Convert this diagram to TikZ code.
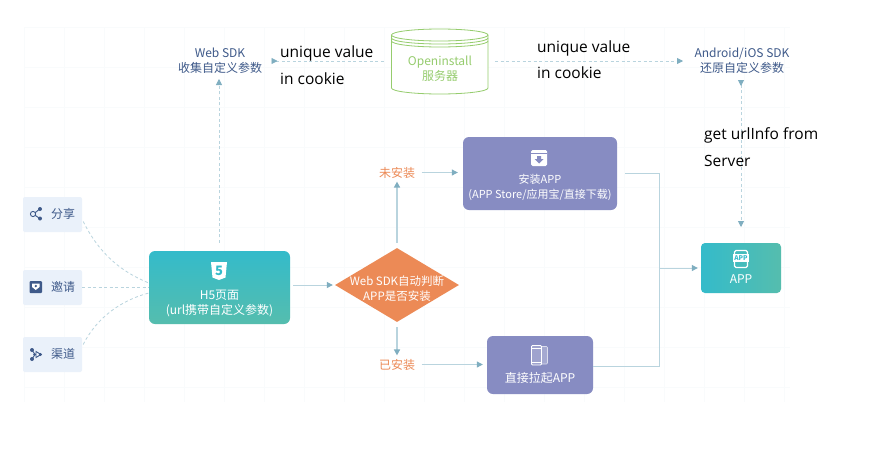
\documentclass[tikz,border=0pt]{standalone}
\usepackage{fontspec}
\setmainfont{Noto Sans CJK SC}
\newfontfamily\latinfont{Open Sans}
\usetikzlibrary{arrows.meta,shapes.geometric,positioning,calc}
\definecolor{tealtop}{HTML}{34BBCA}
\definecolor{tealbot}{HTML}{55BDAE}
\definecolor{violetbox}{HTML}{878CC2}
\definecolor{orangebox}{HTML}{EC8A56}
\definecolor{greenbase}{HTML}{96CC6E}
\definecolor{paleblue}{HTML}{EAF1FA}
\definecolor{navytext}{HTML}{3F5A8A}
\definecolor{linkline}{HTML}{B9D4DE}
\definecolor{linktip}{HTML}{7FAEC0}
\definecolor{gridline}{HTML}{F9FBFC}
\begin{document}
\begin{tikzpicture}[x=1pt,y=-1pt]
\tikzset{
  sidebox/.style={fill=paleblue,rounded corners=2pt,minimum width=59pt,minimum height=35pt,inner sep=0pt},
  sidetext/.style={text=navytext,font=\fontsize{12}{13}\selectfont},
  sdktext/.style={text=navytext,font=\fontsize{12}{15}\selectfont,align=center},
  boxtext/.style={text=white,font=\fontsize{12}{15}\selectfont,align=center},
  smalltext/.style={text=white,font=\fontsize{11}{14.5}\selectfont,align=center},
  violet/.style={fill=violetbox,rounded corners=6pt,inner sep=0pt},
  statetext/.style={text=orangebox,font=\fontsize{12}{13}\selectfont},
  noteblack/.style={text=black,anchor=west,inner sep=0pt,font=\latinfont\fontsize{15.5}{17}\selectfont},
  dashlink/.style={draw=linkline,dash pattern=on 3pt off 2.5pt,line width=0.8pt},
  solidlink/.style={draw=linkline,line width=1pt},
  tip/.style={-{Triangle[length=6pt,width=6pt,color=linktip]}},
  tipback/.style={{Triangle[length=6pt,width=6pt,color=linktip,reversed]}-},
  tipboth/.style={{Triangle[length=6pt,width=6pt,color=linktip,reversed]}-{Triangle[length=6pt,width=6pt,color=linktip]}},
}
\useasboundingbox (0,0) rectangle (872,458);
\fill[white] (0,0) rectangle (872,458);
%fond quadrille
\foreach \gx in {24,64,...,790} \draw[gridline] (\gx,27) -- (\gx,402);
\foreach \gy in {27,67,...,402} \draw[gridline] (24,\gy) -- (790,\gy);

%colonne de gauche
\node[sidebox] (share) at (52.5,214.5) {};
\node[sidebox] (invite) at (52.5,287.5) {};
\node[sidebox] (channel) at (52.5,354.5) {};
\node[sidetext] (sharetext) at (63,213.5) {分享};
\node[sidetext] (invitetext) at (63,287) {邀请};
\node[sidetext] (channeltext) at (63,353.5) {渠道};
%icone partage
\draw[navytext,line width=0.9pt] (33,214) circle (2.6pt) (35.5,212.5) -- (39,209.5) (35.5,215.5) -- (39,218);
\fill[navytext] (40,209) circle (2pt) (40,218.5) circle (2pt);
%icone invitation
\fill[navytext,rounded corners=1pt] (29.5,281) rectangle (42,293);
\fill[white] (32,283.5) -- (39.5,283.5) -- (39.5,287) -- (35.8,290) -- (32,287) -- cycle;
\fill[navytext] (35.8,286) circle (1.3pt);
%icone canal
\draw[navytext,line width=0.9pt] (32,350) -- (35,354.5) -- (32,359) (36,351.5) -- (41,354.5) -- (36,357.5) -- cycle;
\fill[navytext] (32,350) circle (2pt) (32,359) circle (2pt) (40.5,354.5) circle (1.6pt) (34.5,354.5) circle (1.4pt);

%bloc h5
\node[top color=tealtop,bottom color=tealbot,rounded corners=6pt,minimum width=141pt,minimum height=73pt,inner sep=0pt] (h5) at (219.5,287.5) {};
\node[boxtext] (h5text) at (219.5,303.5) {H5页面\\(url携带自定义参数)};
\fill[white] (211,262) -- (227,262) -- (225.5,277.5) -- (219,280) -- (212.5,277.5) -- cycle;
\node[text=tealtop,font=\fontsize{13}{13}\selectfont\bfseries,inner sep=0pt] (h5icon) at (219,270.5) {5};

%losange
\node[diamond,fill=orangebox,minimum width=124pt,minimum height=74pt,aspect=1.67,inner sep=0pt] (check) at (397,285) {};
\node[boxtext,font=\fontsize{11.5}{15}\selectfont] (checktext) at (397,289) {Web SDK自动判断\\APP是否安装};
\node[statetext] (notinst) at (397,172.5) {未安装};
\node[statetext] (inst) at (397,364.5) {已安装};

%blocs violets
\node[violet,minimum width=154pt,minimum height=73pt] (install) at (540,173.5) {};
\node[smalltext] (installtext) at (540,187.5) {安装APP\\(APP Store/应用宝/直接下载)};
\fill[white,rounded corners=1.5pt] (531,150) rectangle (547,166);
\draw[violetbox,line width=0.7pt] (531,153.5) -- (547,153.5);
\fill[violetbox] (537,156) rectangle (541,159) (534.5,159) -- (543.5,159) -- (539,163.5) -- cycle;
\node[violet,minimum width=106pt,minimum height=58pt] (launch) at (540,365) {};
\node[boxtext] (launchtext) at (540,377.5) {直接拉起APP};
\draw[white!70!violetbox,fill=white!25!violetbox,line width=0.6pt,rounded corners=1pt] (539,346.5) rectangle (547.5,364);
\draw[white,fill=white!20!violetbox,line width=0.9pt,rounded corners=1pt] (531.5,345.5) rectangle (541.5,365);
\draw[white,line width=0.7pt] (531.5,348) -- (541.5,348) (531.5,362) -- (541.5,362);

%bloc app
\node[left color=tealtop,right color=tealbot,rounded corners=4pt,minimum width=80pt,minimum height=50pt,inner sep=0pt] (app) at (741,268) {};
\node[boxtext] (apptext) at (741,279.5) {APP};
\draw[white,line width=1.1pt,rounded corners=1.5pt] (734.5,250.5) rectangle (747.5,267.5);
\fill[white] (733,254) rectangle (749,262);
\node[text=tealtop,font=\fontsize{6.5}{6.5}\selectfont\bfseries,inner sep=0pt] (appicon) at (741,258) {APP};

%haut
\node[sdktext] (websdk) at (220,60.5) {Web SDK\\收集自定义参数};
\node[sdktext] (nativesdk) at (742,60.5) {Android/iOS SDK\\还原自定义参数};
%cylindre serveur
\coordinate (dbtl) at (391.5,35);
\coordinate (dbtr) at (488,35);
\draw[greenbase,fill=white,line width=0.8pt] (dbtl) -- (391.5,88) arc[start angle=180,end angle=360,x radius=48.25pt,y radius=6pt] -- (dbtr) arc[start angle=0,end angle=180,x radius=48.25pt,y radius=6pt] -- cycle;
\draw[greenbase,line width=0.8pt] (dbtl) arc[start angle=180,end angle=360,x radius=48.25pt,y radius=6pt];
\draw[greenbase,line width=0.8pt] (391.5,38) arc[start angle=180,end angle=360,x radius=48.25pt,y radius=6pt];
\draw[greenbase,line width=0.8pt] (391.5,41) arc[start angle=180,end angle=360,x radius=48.25pt,y radius=6pt];
\node[text=greenbase,font=\fontsize{12}{15}\selectfont,align=center] (server) at (440,68.5) {Openinstall\\服务器};
\coordinate (dbleft) at (386,61);
\coordinate (dbright) at (495,61);
\coordinate (tipweb) at (271.5,61);

%liaisons
\draw[dashlink] (share.east) ++(1,7) .. controls (100,255) and (122,272) .. (h5.west |- 0,283);
\draw[dashlink] (invite.east) -- (h5.west |- invite.east);
\draw[dashlink] (channel.east) ++(1,-10) .. controls (97,317) and (122,300) .. (h5.west |- 0,293);
\draw[dashlink,tip,shorten <=8pt,shorten >=-1pt] (h5.north) ++(-0.5,0) -- (219,80);
\draw[solidlink,tip,shorten <=3pt,shorten >=2pt] (h5.east |- check.west) -- (check.west);
\draw[dashlink,tipback] (tipweb) -- (dbleft);
\draw[dashlink,tip] (dbright) -- (683,61);
\draw[dashlink,tipboth] (741,80) -- (741,227);
\draw[solidlink,line width=1.5pt,tip,shorten <=5pt] (check.north) -- (notinst.south);
\draw[solidlink,line width=1.5pt,tip,shorten <=5pt] (check.south) -- (inst.north);
\draw[solidlink,tip,shorten <=3pt,shorten >=5pt] (notinst.east) -- (install.west |- notinst.east);
\draw[solidlink,tip,shorten <=3pt,shorten >=4pt] (inst.east) -- (launch.west |- inst.east);
\draw[solidlink,shorten <=8pt] (install.east |- 0,173) -- (659,173) -- (659,366) -- (launch.east |- 0,366);
\draw[solidlink,tip,shorten >=3pt] (659,268) -- (app.west);

%notes
\node[noteblack] (noteone) at (280,53) {unique value};
\node[noteblack] (notetwo) at (280,79) {in cookie};
\node[noteblack] (notethree) at (537,48) {unique value};
\node[noteblack] (notefour) at (537,73) {in cookie};
\node[noteblack] (notefive) at (704,135) {get urlInfo from};
\node[noteblack] (notesix) at (704,161) {Server};
\end{tikzpicture}
\end{document}
